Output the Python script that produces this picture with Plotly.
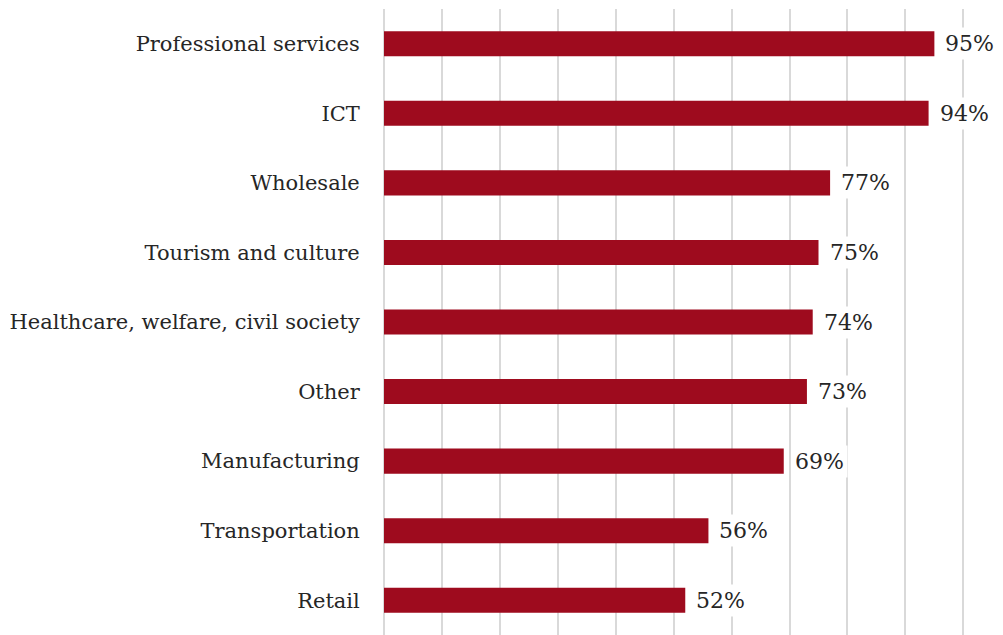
import plotly.graph_objects as go

# Sector shares, listed bottom to top
sectors = [
    "Retail",
    "Transportation",
    "Manufacturing",
    "Other",
    "Healthcare, welfare, civil society",
    "Tourism and culture",
    "Wholesale",
    "ICT",
    "Professional services",
]
shares = [52, 56, 69, 73, 74, 75, 77, 94, 95]

BAR_COLOR = "#9E0B1E"
TEXT_COLOR = "#262626"
GRID_COLOR = "#D9D9D9"
FONT = "DejaVu Serif"

fig = go.Figure(
    go.Bar(
        x=shares,
        y=sectors,
        orientation="h",
        marker=dict(color=BAR_COLOR, line=dict(width=0)),
        width=0.36,
        hoverinfo="x+y",
    )
)

# Value labels on white boxes just past each bar end
for sector, share in zip(sectors, shares):
    fig.add_annotation(
        x=share,
        y=sector,
        text=f"{share}%",
        showarrow=False,
        xanchor="left",
        yanchor="middle",
        xshift=7,
        bgcolor="white",
        borderpad=3,
        font=dict(family=FONT, size=22, color=TEXT_COLOR),
    )

fig.update_layout(
    width=1003,
    height=635,
    margin=dict(l=384, r=13, t=9, b=0),
    paper_bgcolor="white",
    plot_bgcolor="white",
    showlegend=False,
    font=dict(family=FONT, size=21, color=TEXT_COLOR),
)

fig.update_xaxes(
    range=[0, 104.6],
    dtick=10,
    showticklabels=False,
    showgrid=True,
    gridcolor=GRID_COLOR,
    gridwidth=1.5,
    zeroline=True,
    zerolinecolor=GRID_COLOR,
    zerolinewidth=1.5,
    showline=False,
    ticks="",
)

fig.update_yaxes(
    showgrid=False,
    showline=False,
    ticks="outside",
    ticklen=19,
    tickcolor="rgba(0,0,0,0)",
    tickfont=dict(family=FONT, size=21, color=TEXT_COLOR),
    automargin=False,
)

fig.write_html("out.html")
